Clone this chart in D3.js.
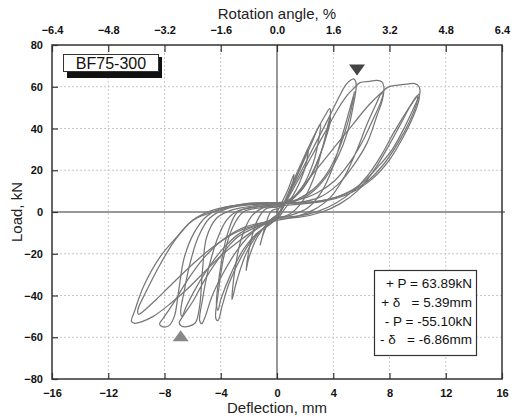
<!DOCTYPE html>
<html>
<head>
<meta charset="utf-8">
<script src="https://cdn.jsdelivr.net/npm/d3@7"></script>
<style>
  body { margin: 0; background: #fff; }
  text { font-family: "Liberation Sans", Arial, sans-serif; }
</style>
</head>
<body>
<div id="chart"></div>
<script>
// axis ticks
var xTicks = [-16, -12, -8, -4, 0, 4, 8, 12, 16];
var topTicks = [-6.4, -4.8, -3.2, -1.6, 0.0, 1.6, 3.2, 4.8, 6.4];
var yTicks = [-80, -60, -40, -20, 0, 20, 40, 60, 80];

// hysteresis cycles, [deflection mm, load kN]
var cyc1 = [[0,0],[0.3,4],[0.8,11],[1.2,18],[1.1,13],[0.7,6],[0.2,2],[-0.4,0.5],[-0.8,-6],[-1.2,-16],[-1.0,-11],[-0.5,-4],[0,-1.5]];
var cyc2 = [[0,-1.5],[0.4,2],[1.2,14],[1.9,25],[2.2,30],[2.1,24],[1.6,14],[0.8,5],[0,2.5],[-0.8,1.5],[-1.4,-4],[-1.9,-15],[-2.2,-28],[-2.0,-22],[-1.4,-12],[-0.6,-5],[0,-2]];
var cyc3 = [[0,-2],[0.4,2],[1.4,17],[2.4,32],[2.9,40],[3.1,42],[3.0,36],[2.6,24],[1.8,12],[0.9,5],[0,3],[-1.0,2],[-1.8,-2],[-2.5,-12],[-3.0,-28],[-3.2,-42],[-2.9,-34],[-2.2,-20],[-1.3,-10],[-0.5,-5],[0,-2.5]];
var cyc4 = [[0,-2.5],[0.4,3],[1.5,20],[2.6,36],[3.4,46],[3.75,49.5],[3.8,47],[3.6,41],[3.3,32],[2.6,20],[1.7,10],[0.8,5],[0,3],[-1.2,2],[-2.4,0],[-3.2,-8],[-3.8,-22],[-4.2,-40],[-4.35,-51],[-4.2,-52],[-3.9,-45],[-3.4,-34],[-2.5,-21],[-1.5,-11],[-0.6,-6],[0,-3]];
var cyc5 = [[0,-3],[0.9,-1],[1.8,5],[2.6,16],[3.2,30],[3.6,40],[3.8,45.5],[3.75,42],[3.5,36],[3.1,28],[2.4,17],[1.5,9],[0.6,5],[0,3.5],[-1.4,2.5],[-2.8,0],[-3.5,-10],[-4.0,-26],[-4.3,-45],[-4.2,-47],[-4.0,-42],[-3.3,-30],[-2.4,-18],[-1.4,-10],[-0.5,-6],[0,-3]];
var cyc6 = [[0,-3],[0.5,4],[1.6,18],[2.6,31],[3.6,44],[4.4,55],[4.9,61],[5.2,63],[5.45,63.8],[5.6,62.5],[5.62,59],[5.45,52],[5.0,38],[4.3,26],[3.4,16],[2.4,9],[1.2,5],[0,3.5],[-1.5,2.5],[-2.8,0.5],[-3.6,-4],[-4.3,-14],[-4.9,-28],[-5.3,-42],[-5.5,-52],[-5.35,-53.5],[-5.1,-50],[-4.6,-40],[-3.8,-29],[-2.8,-18],[-1.6,-9],[-0.6,-5],[0,-3]];
var cyc7 = [[0,-3],[1.0,-1.5],[2.2,2],[3.2,10],[4.0,22],[4.7,38],[5.2,50],[5.45,56],[5.5,57.5],[5.4,53],[5.0,42],[4.4,30],[3.6,19],[2.6,11],[1.4,6],[0,4],[-1.6,3],[-3.2,1],[-4.3,-3],[-5.0,-12],[-5.3,-28],[-5.5,-45],[-5.8,-53],[-6.3,-54.8],[-6.8,-54.6],[-6.95,-53],[-6.7,-50],[-6.0,-43],[-5.1,-32],[-4.0,-21],[-2.8,-12],[-1.4,-7],[0,-3.5]];
var cyc8 = [[0,-3.5],[0.5,3],[1.4,14],[2.4,26],[3.4,38],[4.3,49],[5.0,56],[5.5,59.5],[5.9,62],[6.6,62.6],[7.1,63],[7.45,62.4],[7.6,60],[7.5,54],[7.1,46],[6.4,33],[5.4,22],[4.3,13],[3.0,7],[1.5,4.5],[0,4],[-1.8,3.5],[-3.6,1.5],[-4.8,-3],[-5.6,-12],[-6.2,-25],[-6.6,-38],[-6.85,-48],[-6.75,-50],[-6.5,-46],[-5.9,-38],[-5.0,-28],[-3.9,-18],[-2.6,-10],[-1.2,-6],[0,-4]];
var cyc9 = [[0,-4],[1.2,-2.5],[2.6,1],[3.8,7],[4.8,17],[5.7,30],[6.4,42],[7.0,51],[7.4,56.5],[7.55,57],[7.4,53],[6.8,44],[6.1,34],[5.2,24],[4.1,15],[2.8,9],[1.3,5.5],[0,4.5],[-2.0,4],[-3.8,2],[-5.0,-2],[-5.9,-10],[-6.6,-22],[-7.0,-38],[-7.3,-50],[-7.7,-54.5],[-8.2,-54.8],[-8.35,-53.5],[-8.1,-51],[-7.4,-44],[-6.4,-33],[-5.2,-22],[-3.8,-13],[-2.2,-7],[0,-4]];
var cyc10 = [[0,-4],[0.6,2],[1.8,12],[3.0,22],[4.2,32],[5.4,42],[6.5,51],[7.4,57],[7.9,59.8],[8.6,60.8],[9.3,61.3],[9.8,61.5],[10.1,60],[10.15,56.5],[9.8,51],[9.1,41],[8.2,30],[7.1,21],[5.9,13],[4.4,7.5],[2.6,5],[0,4.5],[-2.2,4],[-4.3,0.5],[-5.95,-3.8],[-7.1,-11.8],[-8.3,-21.4],[-9.5,-35.8],[-10.1,-47],[-10.35,-52.5],[-10.1,-53.3],[-9.6,-52.5],[-8.8,-50],[-7.6,-44],[-6.4,-37],[-5.2,-29],[-4.05,-21.4],[-2.9,-15],[-1.9,-10],[-0.8,-5],[0,-2.3]];
var cyc11 = [[0,-2.3],[1.5,-2],[3.0,0.5],[4.2,4.3],[5.4,10],[6.4,17],[7.4,27],[8.3,38],[9.2,48],[9.8,54],[10.1,56.5],[10.1,54],[9.7,46],[8.9,35],[8.0,25],[6.8,16],[5.2,9],[3.2,5],[0,4],[-2.4,3.5],[-4.5,1],[-6.0,-4],[-7.2,-13],[-8.3,-25],[-9.3,-38],[-9.9,-47],[-9.85,-49],[-9.5,-47.5],[-8.6,-42],[-7.4,-34],[-6.0,-25],[-4.6,-17],[-3.0,-10],[-1.4,-6],[0,-3]];
var cyc12 = [[0,-3],[1.6,-2.5],[3.2,0],[4.5,4],[5.7,10],[6.8,19],[7.8,30],[8.7,41],[9.5,51],[9.95,55.5],[9.95,52.5],[9.4,43],[8.6,33],[7.6,23],[6.3,14],[4.6,8],[2.5,4.5],[0,3]];
var cycles = [cyc1, cyc2, cyc3, cyc4, cyc5, cyc6, cyc7, cyc8, cyc9, cyc10, cyc11, cyc12];

// peak markers and summary
var peakMarks = [{x: 5.69, y: 68, dir: "down"}, {x: -6.85, y: -59.3, dir: "up"}];
var summaryLines = ["+ P = 63.89kN", "+ \u03b4   = 5.39mm", "- P = -55.10kN", "- \u03b4   = -6.86mm"];
var specimen = "BF75-300";

var width = 516, height = 417;
var margin = {top: 45, right: 14, bottom: 38, left: 52};

var svg = d3.select("#chart").append("svg")
  .attr("width", width)
  .attr("height", height);

var x = d3.scaleLinear().domain([-16, 16]).range([margin.left, width - margin.right]);
var xTop = d3.scaleLinear().domain([-6.4, 6.4]).range([margin.left, width - margin.right]);
var y = d3.scaleLinear().domain([-80, 80]).range([height - margin.bottom, margin.top]);

// grid
svg.append("g").selectAll("line")
  .data(xTicks.filter(function(d) { return d > -16 && d < 16 && d != 0; }))
  .enter().append("line")
  .attr("x1", function(d) { return x(d); }).attr("x2", function(d) { return x(d); })
  .attr("y1", y(80)).attr("y2", y(-80))
  .attr("stroke", "#c8c8c8").attr("stroke-dasharray", "2,2");
svg.append("g").selectAll("line")
  .data(yTicks.filter(function(d) { return d > -80 && d < 80 && d != 0; }))
  .enter().append("line")
  .attr("x1", x(-16)).attr("x2", x(16))
  .attr("y1", function(d) { return y(d); }).attr("y2", function(d) { return y(d); })
  .attr("stroke", "#c8c8c8").attr("stroke-dasharray", "2,2");

// zero lines
svg.append("line").attr("x1", x(0)).attr("x2", x(0)).attr("y1", y(80)).attr("y2", y(-80))
  .attr("stroke", "#333").attr("stroke-width", 1);
svg.append("line").attr("x1", x(-16)).attr("x2", x(16) + 3).attr("y1", y(0)).attr("y2", y(0))
  .attr("stroke", "#333").attr("stroke-width", 1);

// hysteresis loops
var line = d3.line()
  .x(function(d) { return x(d[0]); })
  .y(function(d) { return y(d[1]); })
  .curve(d3.curveCatmullRom.alpha(0.5));

svg.append("g").selectAll("path")
  .data(cycles)
  .enter().append("path")
  .attr("d", line)
  .attr("fill", "none")
  .attr("stroke", "#777")
  .attr("stroke-width", 1.25);

// frame
svg.append("rect")
  .attr("x", x(-16)).attr("y", y(80))
  .attr("width", x(16) - x(-16)).attr("height", y(-80) - y(80))
  .attr("fill", "none").attr("stroke", "#333").attr("stroke-width", 1.5);

// axes (ticks pointing inward)
var bottomAxis = d3.axisBottom(x).tickValues(xTicks).tickSizeInner(-6).tickSizeOuter(0).tickPadding(10);
var topAxis = d3.axisTop(xTop).tickValues(topTicks).tickSizeInner(-7).tickSizeOuter(0).tickPadding(11)
  .tickFormat(d3.format(".1f"));
var leftAxis = d3.axisLeft(y).tickValues(yTicks).tickSizeInner(-6).tickSizeOuter(0).tickPadding(9);

function styleAxis(g) {
  g.select(".domain").remove();
  g.selectAll(".tick line").attr("stroke", "#333").attr("stroke-width", 1.2);
  g.selectAll(".tick text")
    .attr("fill", "#111")
    .style("font-size", "11px")
    .style("font-weight", "bold")
    .style("font-family", "'Liberation Sans', Arial, sans-serif");
}

svg.append("g").attr("transform", "translate(0," + y(-80) + ")").call(bottomAxis).call(styleAxis);
svg.append("g").attr("transform", "translate(0," + y(80) + ")").call(topAxis).call(styleAxis);
svg.append("g").attr("transform", "translate(" + x(-16) + ",0)").call(leftAxis).call(styleAxis);

// axis titles
svg.append("text").attr("x", x(0)).attr("y", 19).attr("text-anchor", "middle")
  .style("font-size", "15px").attr("fill", "#222").text("Rotation angle, %");
svg.append("text").attr("x", x(0)).attr("y", 413).attr("text-anchor", "middle")
  .style("font-size", "15px").attr("fill", "#222").text("Deflection, mm");
svg.append("text").attr("transform", "translate(22," + y(0) + ") rotate(-90)").attr("text-anchor", "middle")
  .style("font-size", "15px").attr("fill", "#222").text("Load, kN");

// peak markers
svg.append("g").selectAll("path")
  .data(peakMarks)
  .enter().append("path")
  .attr("d", function(d) {
    var cx = x(d.x), cy = y(d.y), w = 8, h = 11;
    if (d.dir == "down") return "M" + (cx - w) + "," + (cy - h / 2) + "L" + (cx + w) + "," + (cy - h / 2) + "L" + cx + "," + (cy + h / 2) + "Z";
    return "M" + (cx - w) + "," + (cy + h / 2) + "L" + (cx + w) + "," + (cy + h / 2) + "L" + cx + "," + (cy - h / 2) + "Z";
  })
  .attr("fill", function(d) { return d.dir == "down" ? "#444" : "#888"; });

// specimen label with shadow
svg.append("rect").attr("x", 67).attr("y", 57).attr("width", 95).attr("height", 21).attr("fill", "#111");
svg.append("rect").attr("x", 63.5).attr("y", 54.5).attr("width", 95).attr("height", 17)
  .attr("fill", "#fff").attr("stroke", "#333").attr("stroke-width", 1);
svg.append("text").attr("x", 111).attr("y", 68.5).attr("text-anchor", "middle")
  .style("font-size", "16px").attr("fill", "#111").text(specimen);

// summary box
svg.append("rect").attr("x", 374.5).attr("y", 270.5).attr("width", 102).attr("height", 85)
  .attr("fill", "#fff").attr("stroke", "#333").attr("stroke-width", 1.2);
svg.append("g").selectAll("text")
  .data(summaryLines)
  .enter().append("text")
  .attr("x", 472)
  .attr("y", function(d, i) { return [288, 307, 326, 344][i]; })
  .attr("text-anchor", "end")
  .attr("xml:space", "preserve")
  .style("white-space", "pre")
  .style("font-size", "13.5px")
  .attr("fill", "#111")
  .text(function(d) { return d; });
</script>
</body>
</html>
